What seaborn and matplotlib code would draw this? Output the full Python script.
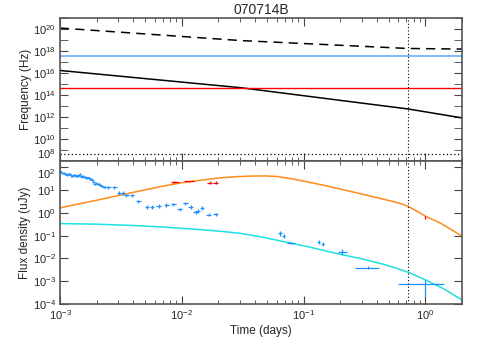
import numpy as np
import pandas as pd
import seaborn as sns
import matplotlib.pyplot as plt
from matplotlib.ticker import LogLocator, NullFormatter

# --- model curves ---
t_nu = [1e-3, 0.0305, 0.72, 2.0]
nu_m = [1.7e16, 4.6e14, 5.4e12, 8.3e11]          # solid black
nu_c = [1.23e20, 8.9e18, 1.7e18, 1.5e18]          # dashed black
nu_x = 3.7e17      # blue band line
nu_r = 4.6e14      # red band line
nu_a = 4.5e8       # dotted line
t_break = 0.72     # vertical dotted line

t_opt_model = [1e-3, 2e-3, 4.57e-3, 7e-3, 1e-2, 0.014, 0.02, 0.028, 0.038, 0.048, 0.06,
               0.0787, 0.108, 0.148, 0.203, 0.279, 0.38, 0.526, 0.62, 0.72, 0.85, 1.0,
               1.35, 2.0]
f_opt_model = [1.66, 3.6, 9.3, 15, 21, 27, 34, 39, 41.5, 42, 40, 32, 23, 16, 11, 7.4,
               5.0, 3.3, 2.6, 1.95, 1.2, 0.72, 0.34, 0.096]

t_x_model = [1e-3, 2e-3, 4e-3, 7e-3, 1e-2, 0.015, 0.021, 0.0305, 0.0446, 0.0787, 0.108,
             0.203, 0.297, 0.45, 0.6, 0.72, 0.85, 1.0, 1.4, 2.0]
f_x_model = [0.34, 0.32, 0.28, 0.24, 0.21, 0.18, 0.155, 0.126, 0.089, 0.047, 0.033,
             0.0149, 0.0098, 0.0056, 0.0035, 0.0025, 0.0017, 1.15e-3, 4.8e-4, 1.5e-4]

# --- X-ray data (blue) ---
t_x_early = [1.0e-3, 1.02e-3, 1.045e-3, 1.07e-3, 1.1e-3, 1.125e-3, 1.15e-3, 1.18e-3,
             1.21e-3, 1.235e-3, 1.26e-3, 1.295e-3, 1.33e-3, 1.36e-3, 1.39e-3, 1.425e-3,
             1.46e-3, 1.49e-3, 1.51e-3, 1.55e-3, 1.59e-3, 1.62e-3, 1.66e-3, 1.7e-3,
             1.73e-3, 1.77e-3, 1.8e-3, 1.84e-3, 1.88e-3, 1.92e-3, 1.97e-3, 2.04e-3,
             2.09e-3, 2.14e-3, 2.2e-3, 2.28e-3, 2.35e-3]
f_x_early = [69, 62, 55, 58, 49, 52, 46, 50, 49, 44, 42, 47, 46, 41, 42, 45, 49, 41, 38,
             40, 38, 36, 35, 36, 33, 31, 30, 27, 23, 18, 21, 19, 18, 17, 15, 13.5, 13.5]

t_x_mid = [2.5e-3, 2.8e-3, 3.05e-3, 3.3e-3, 3.5e-3, 3.9e-3, 4.4e-3, 5.19e-3, 5.7e-3, 6.45e-3,
           7.46e-3, 8.5e-3, 9.6e-3, 0.0107, 0.0118, 0.013, 0.0135, 0.0147, 0.0167, 0.019]
f_x_mid = [13.5, 13.5, 7.6, 7.8, 5.9, 5.9, 3.2, 1.8, 1.8, 2.0, 2.2, 2.4, 1.45, 2.6, 1.8,
           1.05, 1.25, 1.7, 0.85, 0.87]

t_x_late = [0.064, 0.0686, 0.0787, 0.133, 0.144, 0.207, 0.339, 1.0]
f_x_late = [0.126, 0.096, 0.049, 0.053, 0.045, 0.020, 0.004, 7.4e-4]
t_x_late_lo = [0.062, 0.0665, 0.0725, 0.129, 0.140, 0.192, 0.265, 0.60]
t_x_late_hi = [0.066, 0.0707, 0.085, 0.137, 0.148, 0.226, 0.417, 1.41]
f_x_late_lo = [0.10, 0.078, 0.044, 0.043, 0.037, 0.016, 0.0034, 2.1e-4]
f_x_late_hi = [0.16, 0.118, 0.054, 0.065, 0.054, 0.025, 0.0047, 1.15e-3]

# --- optical data (red) ---
t_opt = [8.7e-3, 0.0114, 0.0169, 0.019, 0.99]
f_opt = [22, 24, 21.5, 21.5, 0.62]
t_opt_lo = [8.08e-3, 0.0104, 0.0160, 0.0180, 0.985]
t_opt_hi = [9.4e-3, 0.0126, 0.0178, 0.0200, 0.995]
f_opt_lo = [20, 22, 18.5, 18.5, 0.52]
f_opt_hi = [24, 26, 25, 25, 0.72]

freq_ticks = [1e8, 1e10, 1e12, 1e14, 1e16, 1e18, 1e20]
freq_labels = ['$10^{8}$', '$10^{10}$', '$10^{12}$', '$10^{14}$', '$10^{16}$', '$10^{18}$', '$10^{20}$']
flux_ticks = [1e-4, 1e-3, 1e-2, 1e-1, 1e0, 1e1, 1e2]
flux_labels = ['$10^{-4}$', '$10^{-3}$', '$10^{-2}$', '$10^{-1}$', '$10^{0}$', '$10^{1}$', '$10^{2}$']

sns.set_style("ticks")
plt.rcParams['font.family'] = ['Liberation Sans', 'DejaVu Sans']
plt.rcParams['mathtext.fontset'] = 'custom'
plt.rcParams['mathtext.rm'] = 'Liberation Sans'
plt.rcParams['mathtext.it'] = 'Liberation Sans:italic'

fig, (ax1, ax2) = plt.subplots(2, 1, sharex=True, figsize=(4.8, 3.43), dpi=100)
fig.subplots_adjust(left=0.125, right=0.9625, top=0.9475, bottom=0.1137, hspace=0)

# top panel: characteristic frequencies
sns.lineplot(x=t_nu, y=nu_m, ax=ax1, color='black', lw=1.1, estimator=None, sort=False)
sns.lineplot(x=t_nu, y=nu_c, ax=ax1, color='black', lw=1.1, estimator=None, sort=False,
             linestyle=(0, (6, 4)))
ax1.axhline(nu_x, color='#5aaaf5', lw=1.1)
ax1.axhline(nu_r, color='red', lw=1.0)
ax1.axhline(nu_a, color='black', lw=0.9, linestyle=(0, (1, 2)))
ax1.axvline(t_break, color='black', lw=0.8, linestyle=(0, (1, 2)))
ax1.set_title('070714B', fontsize=10, pad=3)
ax1.set_ylabel('Frequency (Hz)', fontsize=8.5, labelpad=1)

# bottom panel: light curves
sns.lineplot(x=t_opt_model, y=f_opt_model, ax=ax2, color='#ff8c1a', lw=1.1,
             estimator=None, sort=False)
sns.lineplot(x=t_x_model, y=f_x_model, ax=ax2, color='#1ee0e0', lw=1.1,
             estimator=None, sort=False)

ax2.errorbar(t_x_early, f_x_early, xerr=[np.array(t_x_early) * 0.025, np.array(t_x_early) * 0.025],
             yerr=[np.array(f_x_early) * 0.1, np.array(f_x_early) * 0.1],
             fmt='none', ecolor='#1e8fff', elinewidth=0.9)
ax2.errorbar(t_x_mid, f_x_mid, xerr=[np.array(t_x_mid) * 0.045, np.array(t_x_mid) * 0.045],
             yerr=[np.array(f_x_mid) * 0.18, np.array(f_x_mid) * 0.18],
             fmt='none', ecolor='#1e8fff', elinewidth=0.9)
ax2.errorbar(t_x_late, f_x_late,
             xerr=[np.array(t_x_late) - np.array(t_x_late_lo), np.array(t_x_late_hi) - np.array(t_x_late)],
             yerr=[np.array(f_x_late) - np.array(f_x_late_lo), np.array(f_x_late_hi) - np.array(f_x_late)],
             fmt='none', ecolor='#1e8fff', elinewidth=0.9)
ax2.errorbar(t_opt, f_opt,
             xerr=[np.array(t_opt) - np.array(t_opt_lo), np.array(t_opt_hi) - np.array(t_opt)],
             yerr=[np.array(f_opt) - np.array(f_opt_lo), np.array(f_opt_hi) - np.array(f_opt)],
             fmt='none', ecolor='red', elinewidth=0.9)
ax2.axvline(t_break, color='black', lw=0.8, linestyle=(0, (1, 2)))
ax2.set_ylabel('Flux density (uJy)', fontsize=8.5, labelpad=1)
ax2.set_xlabel('Time (days)', fontsize=8.5, labelpad=2)

for ax in (ax1, ax2):
    ax.set_xscale('log')
    ax.set_yscale('log')
    ax.set_xlim(1e-3, 2.0)
    for s in ax.spines.values():
        s.set_color('#555555')
        s.set_linewidth(1.2)
    ax.tick_params(which='both', direction='in', top=True, right=True, color='#444444',
                   labelsize=8, pad=3)
    ax.tick_params(which='major', length=6)
    ax.tick_params(which='minor', length=3)

ax1.set_ylim(1e8, 1e21)
ax1.set_yticks(freq_ticks, freq_labels)
ax1.yaxis.set_minor_locator(LogLocator(base=10.0, subs=(1.0,), numticks=30))
ax1.yaxis.set_minor_formatter(NullFormatter())
ax1.tick_params(axis='y', which='minor', length=6)
ax1.get_yticklabels()[0].set_verticalalignment('bottom')

ax2.set_ylim(1e-4, 1.9e2)
ax2.set_yticks(flux_ticks, flux_labels)
ax2.yaxis.set_minor_locator(LogLocator(base=10.0, subs=(), numticks=20))
ax2.yaxis.set_minor_formatter(NullFormatter())
ax2.get_yticklabels()[-1].set_verticalalignment('top')

plt.savefig('out.png', format='png')
